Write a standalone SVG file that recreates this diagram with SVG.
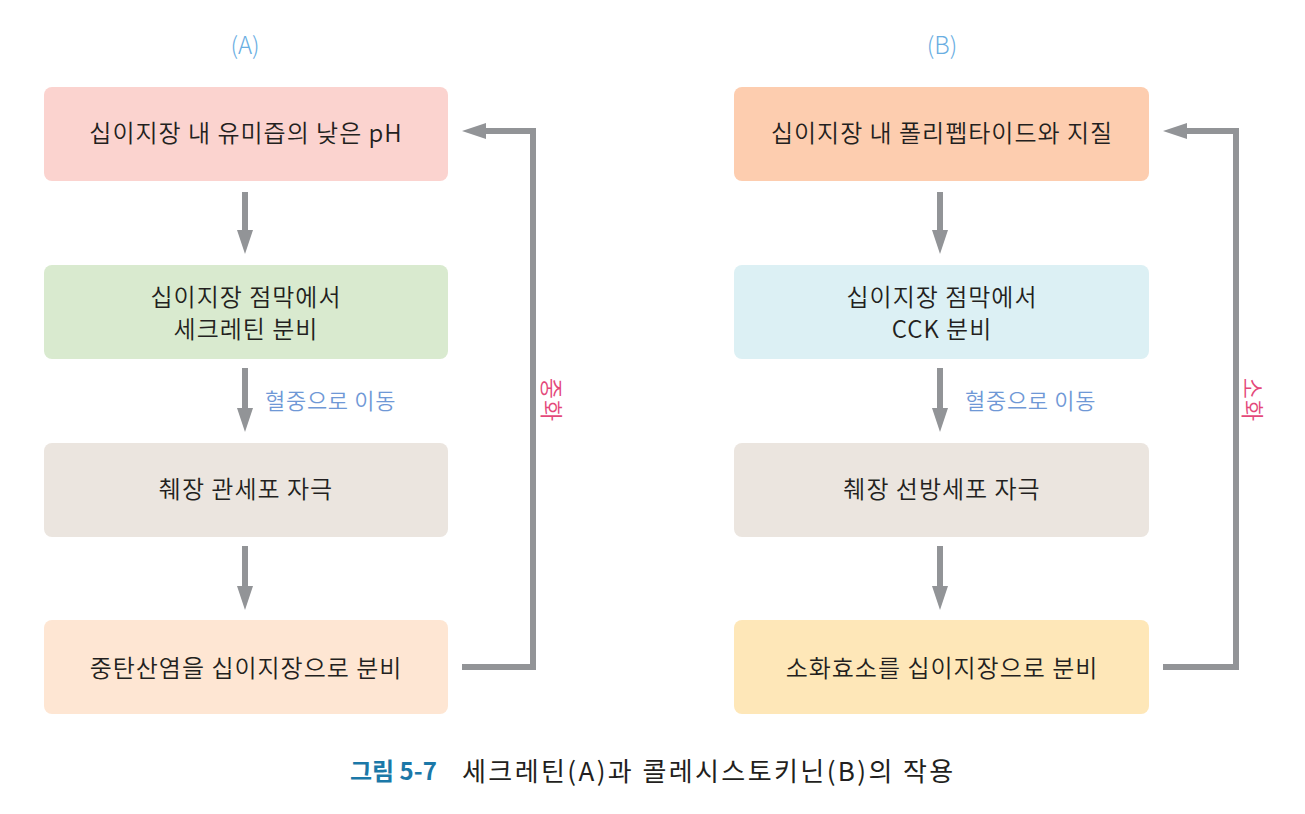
<svg xmlns="http://www.w3.org/2000/svg" width="1305" height="814" viewBox="0 0 1305 814">
<defs>
<style>
.t{font-family:"Noto Sans CJK KR","Noto Sans",sans-serif;font-size:24px;letter-spacing:1px;font-weight:350;fill:#231f20;text-anchor:middle;dominant-baseline:central}
.hd{font-family:"Noto Sans CJK KR","Noto Sans",sans-serif;font-size:24px;fill:#6aaee2;text-anchor:middle;dominant-baseline:central;font-weight:300}
.lb{font-family:"Noto Sans CJK KR",sans-serif;font-size:22px;letter-spacing:0.7px;font-weight:350;fill:#6f98d6;dominant-baseline:central}
.vr{font-family:"Noto Sans CJK KR",sans-serif;font-size:23px;letter-spacing:1px;font-weight:350;fill:#e4487a;text-anchor:middle;dominant-baseline:central}
.cap{font-family:"Noto Sans CJK KR",sans-serif;font-size:26px;fill:#231f20;dominant-baseline:central}
.ln{fill:none;stroke:#929497;stroke-width:6}
.ah{fill:#929497}
</style>
</defs>
<rect width="1305" height="814" fill="#ffffff"/>
<text class="hd" x="245" y="43">(A)</text>
<text class="hd" x="942" y="43">(B)</text>

<g id="a1"><rect x="44" y="87" width="404" height="94" rx="8" fill="#fbd3cf"/><text class="t" x="246" y="131">십이지장 내 유미즙의 낮은 pH</text></g>
<g id="a2"><rect x="44" y="265" width="404" height="94" rx="8" fill="#d9eacf"/><text class="t" x="246" y="295">십이지장 점막에서</text><text class="t" x="246" y="327">세크레틴 분비</text></g>
<g id="a3"><rect x="44" y="443" width="404" height="94" rx="8" fill="#ebe5df"/><text class="t" x="246" y="487">췌장 관세포 자극</text></g>
<g id="a4"><rect x="44" y="620" width="404" height="94" rx="8" fill="#fee6d3"/><text class="t" x="246" y="666">중탄산염을 십이지장으로 분비</text></g>

<g id="b1"><rect x="734" y="87" width="415" height="94" rx="8" fill="#fdcdaf"/><text class="t" x="942" y="131">십이지장 내 폴리펩타이드와 지질</text></g>
<g id="b2"><rect x="734" y="265" width="415" height="94" rx="8" fill="#dcf0f4"/><text class="t" x="942" y="295">십이지장 점막에서</text><text class="t" x="942" y="327">CCK 분비</text></g>
<g id="b3"><rect x="734" y="443" width="415" height="94" rx="8" fill="#ebe5df"/><text class="t" x="942" y="487">췌장 선방세포 자극</text></g>
<g id="b4"><rect x="734" y="620" width="415" height="94" rx="8" fill="#fee7b8"/><text class="t" x="942" y="666">소화효소를 십이지장으로 분비</text></g>

<g id="connectors">
<line class="ln" x1="245" y1="192" x2="245" y2="232"/><polygon class="ah" points="237,230 253,230 245,254"/>
<line class="ln" x1="245" y1="368" x2="245" y2="410"/><polygon class="ah" points="237,408 253,408 245,432"/>
<line class="ln" x1="245" y1="546" x2="245" y2="588"/><polygon class="ah" points="237,586 253,586 245,610"/>
<polyline class="ln" points="462,667 533,667 533,131 484,131"/><polygon class="ah" points="462,131 486,123 486,139"/>

<line class="ln" x1="940" y1="192" x2="940" y2="232"/><polygon class="ah" points="932,230 948,230 940,254"/>
<line class="ln" x1="940" y1="368" x2="940" y2="410"/><polygon class="ah" points="932,408 948,408 940,432"/>
<line class="ln" x1="940" y1="546" x2="940" y2="588"/><polygon class="ah" points="932,586 948,586 940,610"/>
<polyline class="ln" points="1163,667 1236,667 1236,131 1185,131"/><polygon class="ah" points="1163,131 1187,123 1187,139"/>
</g>

<text class="lb" x="265" y="399">혈중으로 이동</text>
<text class="lb" x="965" y="399">혈중으로 이동</text>
<text class="vr" transform="translate(553,400) rotate(90)">중화</text>
<text class="vr" transform="translate(1254,400) rotate(90)">소화</text>

<text class="cap" x="350" y="769"><tspan fill="#1b78a8" font-weight="bold" font-size="24">그림 5-7</tspan><tspan x="462" letter-spacing="2.4">세크레틴(A)과 콜레시스토키닌(B)의 작용</tspan></text>
</svg>
